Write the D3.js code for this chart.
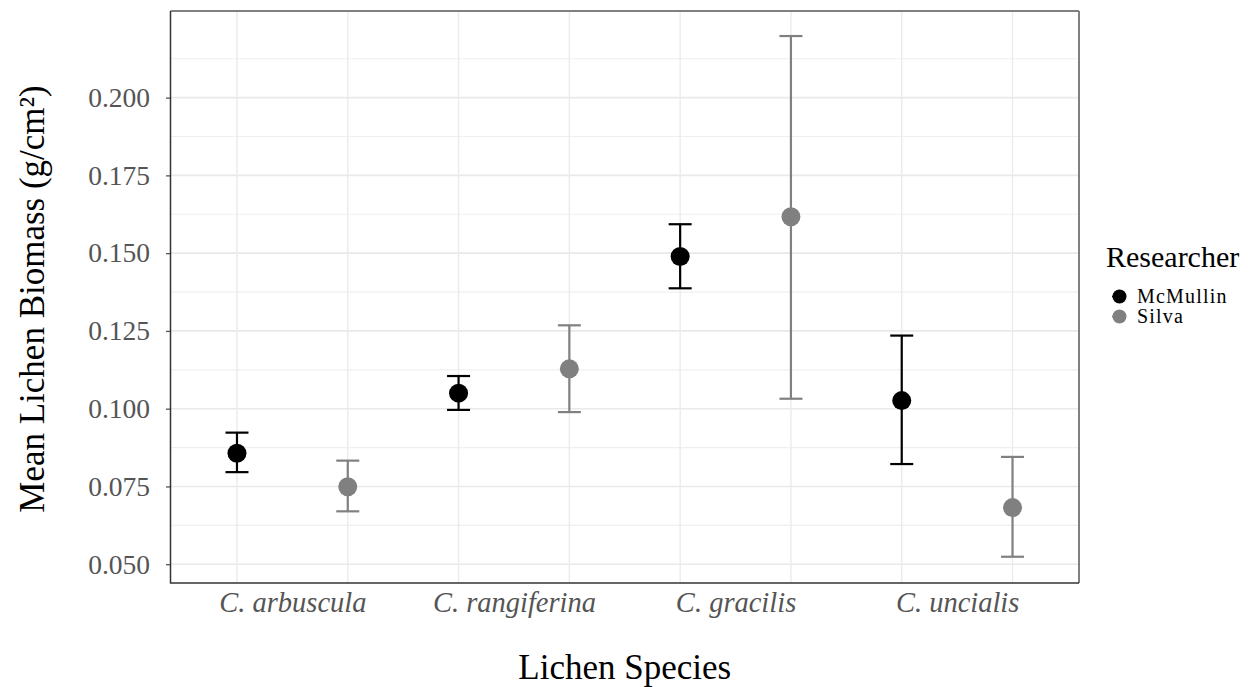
<!DOCTYPE html>
<html>
<head>
<meta charset="utf-8">
<script src="https://cdn.jsdelivr.net/npm/d3@7"></script>
<style>
  html, body { margin: 0; padding: 0; background: #fff; }
  svg { display: block; }
  text { font-family: "Liberation Serif", "DejaVu Serif", serif; }
</style>
</head>
<body>
<svg id="chart" width="1249" height="687"></svg>
<script>
// Lichen biomass by species and researcher (mean ± error)
const species = ["C. arbuscula", "C. rangiferina", "C. gracilis", "C. uncialis"];
const researchers = ["McMullin", "Silva"];
const mcmullinMean  = [0.0857, 0.1050, 0.1489, 0.1026];
const mcmullinLower = [0.0796, 0.0996, 0.1387, 0.0822];
const mcmullinUpper = [0.0923, 0.1105, 0.1593, 0.1235];
const silvaMean  = [0.0749, 0.1128, 0.1617, 0.0682];
const silvaLower = [0.0670, 0.0989, 0.1032, 0.0524];
const silvaUpper = [0.0833, 0.1268, 0.2198, 0.0845];
const yTicks = [0.050, 0.075, 0.100, 0.125, 0.150, 0.175, 0.200];

const colors = { McMullin: "#000000", Silva: "#808080" };
const dodge = { McMullin: -0.25, Silva: 0.25 };

const rows = [];
species.forEach((s, i) => {
  rows.push({ species: s, idx: i + 1, who: "McMullin", mean: mcmullinMean[i], lo: mcmullinLower[i], hi: mcmullinUpper[i] });
  rows.push({ species: s, idx: i + 1, who: "Silva", mean: silvaMean[i], lo: silvaLower[i], hi: silvaUpper[i] });
});

const panel = { left: 170.5, right: 1079, top: 11, bottom: 583 };
const svg = d3.select("#chart");

const x = d3.scaleLinear().domain([0.45, species.length + 0.55]).range([panel.left, panel.right]);
const y = d3.scaleLinear().domain([0.04396, 0.22785]).range([panel.bottom, panel.top]);

// grid: minor lines half-way between major ticks
const minor = yTicks.slice(0, -1).map((t, i) => (t + yTicks[i + 1]) / 2)
  .concat([yTicks[yTicks.length - 1] + 0.0125]);
const grid = svg.append("g");
grid.selectAll("line.minor").data(minor).join("line")
  .attr("x1", panel.left).attr("x2", panel.right)
  .attr("y1", d => y(d)).attr("y2", d => y(d))
  .attr("stroke", "#efefef").attr("stroke-width", 1.2);
grid.selectAll("line.major").data(yTicks).join("line")
  .attr("x1", panel.left).attr("x2", panel.right)
  .attr("y1", d => y(d)).attr("y2", d => y(d))
  .attr("stroke", "#e9e9e9").attr("stroke-width", 1.6);
grid.selectAll("line.vert").data(rows).join("line")
  .attr("x1", d => x(d.idx + dodge[d.who])).attr("x2", d => x(d.idx + dodge[d.who]))
  .attr("y1", panel.top).attr("y2", panel.bottom)
  .attr("stroke", "#ebebeb").attr("stroke-width", 1.4);

// panel border (top/right) and axis lines (left/bottom)
svg.append("line").attr("x1", panel.left).attr("x2", panel.right).attr("y1", panel.top).attr("y2", panel.top)
  .attr("stroke", "#808080").attr("stroke-width", 2);
svg.append("line").attr("x1", panel.right).attr("x2", panel.right).attr("y1", panel.top).attr("y2", panel.bottom)
  .attr("stroke", "#808080").attr("stroke-width", 2);

// y axis
const yAxis = svg.append("g")
  .attr("transform", `translate(${panel.left},0)`)
  .call(d3.axisLeft(y).tickValues(yTicks).tickFormat(d3.format(".3f")).tickSize(4.5).tickPadding(16));
yAxis.select(".domain").remove();
yAxis.selectAll(".tick line").attr("stroke", "#555").attr("stroke-width", 1.3);
yAxis.selectAll(".tick text").attr("font-size", 27.5).attr("fill", "#555")
  .attr("font-family", "'Liberation Serif', serif");

// x axis labels at category centres
const xAxis = svg.append("g")
  .attr("transform", `translate(0,${panel.bottom})`)
  .call(d3.axisBottom(x).tickValues(species.map((s, i) => i + 1)).tickFormat(d => species[d - 1]).tickSize(0).tickPadding(9));
xAxis.select(".domain").remove();
xAxis.selectAll(".tick text").attr("font-size", 28.5).attr("fill", "#555")
  .attr("font-style", "italic").attr("font-family", "'Liberation Serif', serif");

svg.append("line").attr("x1", panel.left).attr("x2", panel.left).attr("y1", panel.top).attr("y2", panel.bottom + 0.5)
  .attr("stroke", "#333").attr("stroke-width", 1.5);
svg.append("line").attr("x1", panel.left).attr("x2", panel.right).attr("y1", panel.bottom).attr("y2", panel.bottom)
  .attr("stroke", "#333").attr("stroke-width", 1.5);

// error bars
const capHalf = 11.5;
const bars = svg.append("g");
rows.forEach(d => {
  const cx = x(d.idx + dodge[d.who]);
  const c = colors[d.who];
  const g = bars.append("g").attr("stroke", c).attr("stroke-width", 2.2);
  g.append("line").attr("x1", cx).attr("x2", cx).attr("y1", y(d.hi)).attr("y2", y(d.lo));
  g.append("line").attr("x1", cx - capHalf).attr("x2", cx + capHalf).attr("y1", y(d.hi)).attr("y2", y(d.hi));
  g.append("line").attr("x1", cx - capHalf).attr("x2", cx + capHalf).attr("y1", y(d.lo)).attr("y2", y(d.lo));
});

// mean points
svg.append("g").selectAll("circle").data(rows).join("circle")
  .attr("cx", d => x(d.idx + dodge[d.who]))
  .attr("cy", d => y(d.mean))
  .attr("r", 9.5)
  .attr("fill", d => colors[d.who]);

// axis titles
svg.append("text")
  .attr("x", (panel.left + panel.right) / 2).attr("y", 679)
  .attr("text-anchor", "middle").attr("font-size", 35).attr("fill", "#000")
  .text("Lichen Species");
svg.append("text")
  .attr("transform", `translate(44,${(panel.top + panel.bottom) / 2 + 2}) rotate(-90)`)
  .attr("text-anchor", "middle").attr("font-size", 35).attr("fill", "#000")
  .text("Mean Lichen Biomass (g/cm²)");

// legend
const legend = svg.append("g").attr("transform", "translate(1106,0)");
legend.append("text").attr("x", 0).attr("y", 267).attr("font-size", 30).attr("fill", "#000").text("Researcher");
researchers.forEach((r, i) => {
  const cy = 296.5 + i * 20;
  legend.append("line").attr("x1", 6).attr("x2", 20).attr("y1", cy).attr("y2", cy)
    .attr("stroke", colors[r]).attr("stroke-width", 1.5);
  legend.append("circle").attr("cx", 13.5).attr("cy", cy).attr("r", 7).attr("fill", colors[r]);
  legend.append("text").attr("x", 31).attr("y", cy + 6.5).attr("font-size", 20)
    .attr("letter-spacing", 1.2).attr("fill", "#000").text(r);
});
</script>
</body>
</html>
